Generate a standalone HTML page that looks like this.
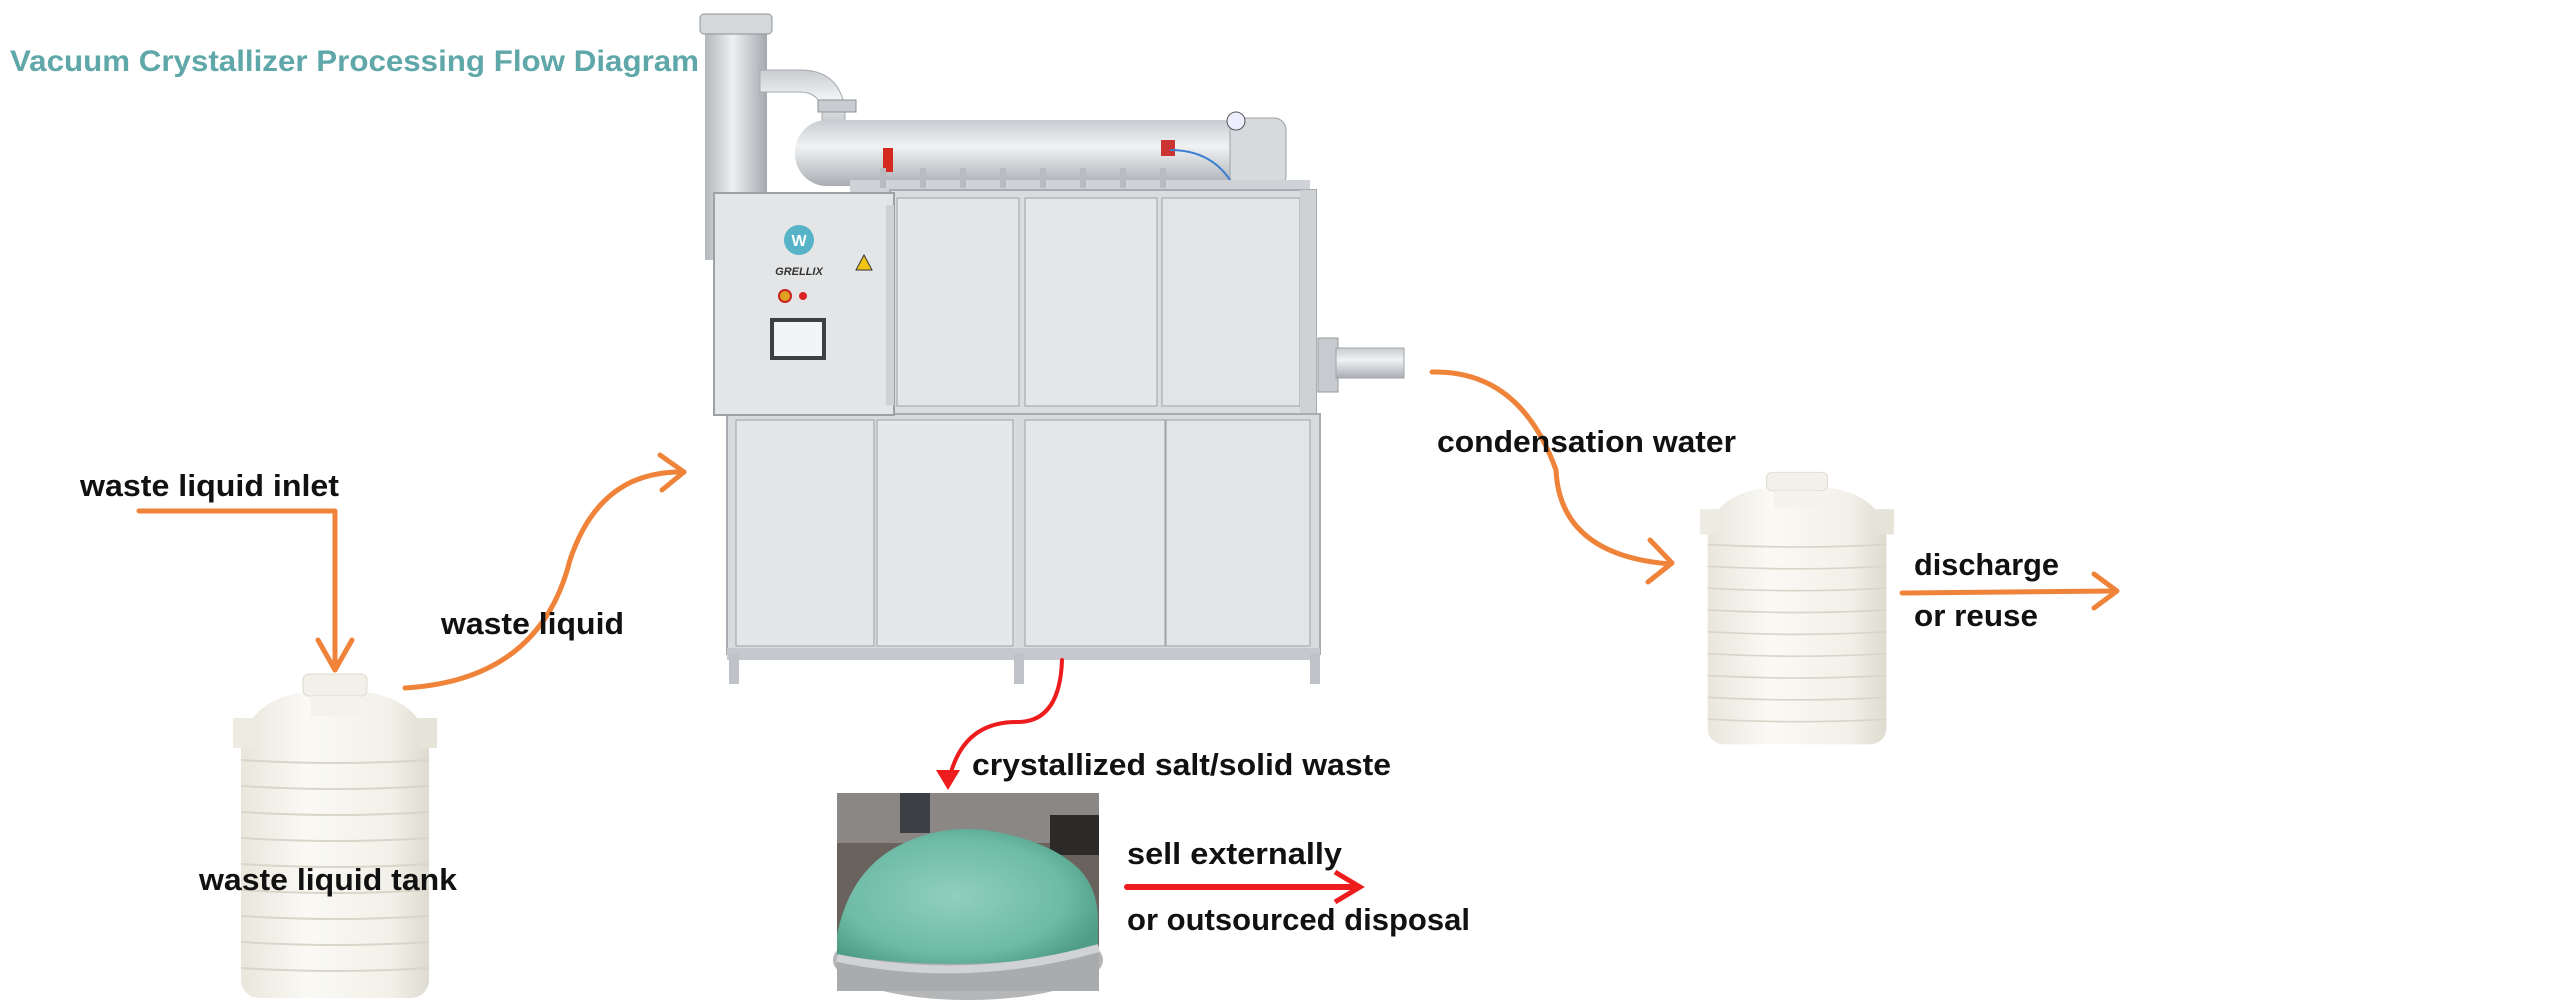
<!DOCTYPE html>
<html><head><meta charset="utf-8"><style>
html,body{margin:0;padding:0;background:#fff;width:2560px;height:1000px;overflow:hidden}
svg{display:block}
text{font-family:"Liberation Sans",sans-serif;font-weight:bold}
</style></head><body>
<svg width="2560" height="1000" viewBox="0 0 2560 1000" xmlns="http://www.w3.org/2000/svg">
<defs>
<linearGradient id="tank" x1="0" x2="1" y1="0" y2="0">
<stop offset="0" stop-color="#e9e6dc"/><stop offset="0.35" stop-color="#faf9f4"/><stop offset="0.8" stop-color="#f2f0e8"/><stop offset="1" stop-color="#dedbd0"/></linearGradient>
<linearGradient id="pipe" x1="0" x2="0" y1="0" y2="1">
<stop offset="0" stop-color="#c8ccd0"/><stop offset="0.4" stop-color="#f0f2f4"/><stop offset="1" stop-color="#a9adb2"/></linearGradient>
<linearGradient id="vpipe" x1="0" x2="1" y1="0" y2="0">
<stop offset="0" stop-color="#b4b8bc"/><stop offset="0.45" stop-color="#eef0f2"/><stop offset="1" stop-color="#a4a8ad"/></linearGradient>
<radialGradient id="salt" cx="0.45" cy="0.5" r="0.6">
<stop offset="0" stop-color="#8fd0bd"/><stop offset="0.7" stop-color="#6ebba6"/><stop offset="1" stop-color="#4f9d86"/></radialGradient>
<g id="tk">
<rect x="-94" y="40" width="188" height="270" rx="18" fill="url(#tank)"/>
<path d="M-94 52 Q-80 10 -30 4 L30 4 Q80 10 94 52 Z" fill="url(#tank)"/>
<rect x="-102" y="30" width="20" height="30" fill="#eeebe2"/><rect x="82" y="30" width="20" height="30" fill="#e6e3d9"/>
<rect x="-32" y="-14" width="64" height="22" rx="6" fill="#f2f0e8" stroke="#dcd8cc"/>
<rect x="-24" y="8" width="48" height="20" fill="#f4f2eb"/>
<g stroke="#d9d5c9" stroke-width="2" fill="none">
<path d="M-94 72 Q0 78 94 72"/><path d="M-94 98 Q0 104 94 98"/><path d="M-94 124 Q0 130 94 124"/><path d="M-94 150 Q0 156 94 150"/><path d="M-94 176 Q0 182 94 176"/><path d="M-94 202 Q0 208 94 202"/><path d="M-94 228 Q0 234 94 228"/><path d="M-94 254 Q0 260 94 254"/><path d="M-94 280 Q0 286 94 280"/>
</g>
</g>
</defs>

<text x="10" y="71" font-size="30" fill="#5fa7a8" textLength="689" lengthAdjust="spacingAndGlyphs">Vacuum Crystallizer Processing Flow Diagram</text>

<!-- machine -->
<rect x="705" y="20" width="62" height="240" fill="url(#vpipe)"/>
<rect x="700" y="14" width="72" height="20" rx="4" fill="#d5d8db" stroke="#8d9196"/>
<path d="M760 70 L800 70 Q840 70 845 110 L845 140 L822 140 L822 112 Q820 92 800 92 L760 92 Z" fill="url(#pipe)" stroke="#a6aaae"/>
<rect x="818" y="100" width="38" height="12" fill="#c9ccd0" stroke="#8d9196"/>
<rect x="795" y="120" width="490" height="66" rx="32" fill="url(#pipe)"/>
<rect x="1230" y="118" width="56" height="70" rx="12" fill="#d7dadd" stroke="#9ea2a6"/>
<circle cx="1236" cy="121" r="9" fill="#eef" stroke="#555"/>
<rect x="883" y="148" width="10" height="24" fill="#d52a1f"/>
<rect x="1161" y="140" width="14" height="16" fill="#c33"/>
<path d="M1170 150 Q1210 150 1230 180" stroke="#3a7fd0" stroke-width="2" fill="none"/>
<rect x="850" y="180" width="460" height="14" fill="#cfd2d6"/>
<g fill="#b8bcc0"><rect x="880" y="168" width="6" height="20"/><rect x="920" y="168" width="6" height="20"/><rect x="960" y="168" width="6" height="20"/><rect x="1000" y="168" width="6" height="20"/><rect x="1040" y="168" width="6" height="20"/><rect x="1080" y="168" width="6" height="20"/><rect x="1120" y="168" width="6" height="20"/><rect x="1160" y="168" width="6" height="20"/></g>
<!-- upper body -->
<rect x="890" y="190" width="426" height="224" fill="#dadddf" stroke="#a8acb0" stroke-width="2"/>
<rect x="897" y="198" width="122" height="208" fill="#e3e5e7" stroke="#9ea2a6"/>
<rect x="1025" y="198" width="132" height="208" fill="#e4e6e8" stroke="#9ea2a6"/>
<rect x="1162" y="198" width="138" height="208" fill="#e2e4e6" stroke="#9ea2a6"/>
<rect x="1300" y="190" width="16" height="224" fill="#cfd2d5"/>
<!-- outlet pipe -->
<rect x="1318" y="338" width="20" height="54" fill="#c7cace" stroke="#999"/>
<rect x="1336" y="348" width="68" height="30" fill="url(#pipe)" stroke="#a0a4a8"/>
<!-- lower body -->
<rect x="727" y="414" width="593" height="240" fill="#d8dbde" stroke="#a8acb0" stroke-width="2"/>
<rect x="736" y="420" width="138" height="226" fill="#e3e5e7" stroke="#9ea2a6"/>
<rect x="877" y="420" width="136" height="226" fill="#e5e7e9" stroke="#9ea2a6"/>
<rect x="1025" y="420" width="140" height="226" fill="#e4e6e8" stroke="#9ea2a6"/>
<rect x="1166" y="420" width="144" height="226" fill="#e2e4e6" stroke="#9ea2a6"/>
<rect x="727" y="648" width="593" height="12" fill="#c5c8cc"/>
<rect x="729" y="654" width="10" height="30" fill="#bfc2c6"/>
<rect x="1014" y="654" width="10" height="30" fill="#bfc2c6"/>
<rect x="1310" y="654" width="10" height="30" fill="#bfc2c6"/>
<!-- control box -->
<rect x="714" y="193" width="180" height="222" fill="#e3e5e7" stroke="#9da1a5" stroke-width="2"/>
<rect x="886" y="205" width="8" height="200" fill="#cfd2d5"/>
<circle cx="799" cy="240" r="15" fill="#56b3c8"/>
<text x="799" y="246" font-size="16" fill="#fff" text-anchor="middle">W</text>
<text x="799" y="275" font-size="11" fill="#333" text-anchor="middle" font-style="italic">GRELLIX</text>
<path d="M864 255 L872 270 L856 270 Z" fill="#f3c318" stroke="#333"/>
<circle cx="785" cy="296" r="6" fill="#e0a020" stroke="#c22" stroke-width="2"/>
<circle cx="803" cy="296" r="4" fill="#d22"/>
<rect x="770" y="318" width="56" height="42" fill="#3c3f44"/>
<rect x="774" y="322" width="48" height="34" fill="#f2f4f6"/>

<!-- left tank -->
<use href="#tk" x="335" y="688"/>
<!-- right tank -->
<g transform="translate(1797 484) scale(0.95 0.84)"><use href="#tk"/></g>

<!-- photo -->
<rect x="837" y="793" width="262" height="198" fill="#6a625c"/>
<rect x="837" y="793" width="262" height="50" fill="#8a8784"/>
<rect x="900" y="793" width="30" height="40" fill="#3c3f44"/>
<rect x="1050" y="815" width="49" height="40" fill="#2c2a28"/>
<ellipse cx="968" cy="960" rx="135" ry="40" fill="#b4b6b8"/>
<rect x="837" y="950" width="262" height="41" fill="#a9abad"/>
<path d="M837 935 Q850 870 900 845 Q940 825 985 830 Q1050 840 1080 870 Q1098 890 1098 920 L1098 950 Q968 975 837 955 Z" fill="url(#salt)"/>
<path d="M837 958 Q968 985 1099 948" stroke="#d0d2d4" stroke-width="8" fill="none"/>

<!-- arrows orange -->
<g stroke="#f0833a" stroke-width="5" fill="none" stroke-linecap="round" stroke-linejoin="round">
<path d="M139 511 L335 511 L335 670"/>
<path d="M318 640 L335 670 L352 640"/>
<path d="M405 688 Q540 680 570 560 Q600 470 684 472"/>
<path d="M660 455 L684 472 L662 490"/>
<path d="M1432 372 Q1520 370 1556 470 Q1560 555 1670 564"/>
<path d="M1650 540 L1672 563 L1648 582"/>
<path d="M1902 593 L2115 591"/>
<path d="M2094 574 L2117 591 L2094 608"/>
</g>
<!-- arrows red -->
<g stroke="#ee1c1c" stroke-width="4" fill="none" stroke-linecap="round">
<path d="M1062 660 Q1060 720 1020 722 Q960 720 948 785"/>
<path d="M1127 887 L1355 887" stroke-width="6"/>
</g>
<path d="M936 770 L960 770 L948 790 Z" fill="#ee1c1c"/>
<path d="M1335 872 L1360 887 L1335 902" stroke="#ee1c1c" stroke-width="5" fill="none"/>

<!-- labels -->
<g font-size="31" fill="#111">
<text x="80" y="496" textLength="259" lengthAdjust="spacingAndGlyphs">waste liquid inlet</text>
<text x="441" y="634" textLength="183" lengthAdjust="spacingAndGlyphs">waste liquid</text>
<text x="199" y="890" textLength="258" lengthAdjust="spacingAndGlyphs">waste liquid tank</text>
<text x="972" y="775" textLength="419" lengthAdjust="spacingAndGlyphs">crystallized salt/solid waste</text>
<text x="1127" y="864" textLength="215" lengthAdjust="spacingAndGlyphs">sell externally</text>
<text x="1127" y="930" textLength="343" lengthAdjust="spacingAndGlyphs">or outsourced disposal</text>
<text x="1437" y="452" textLength="299" lengthAdjust="spacingAndGlyphs">condensation water</text>
<text x="1914" y="575" textLength="145" lengthAdjust="spacingAndGlyphs">discharge</text>
<text x="1914" y="626" textLength="124" lengthAdjust="spacingAndGlyphs">or reuse</text>
</g>
</svg>
</body></html>
